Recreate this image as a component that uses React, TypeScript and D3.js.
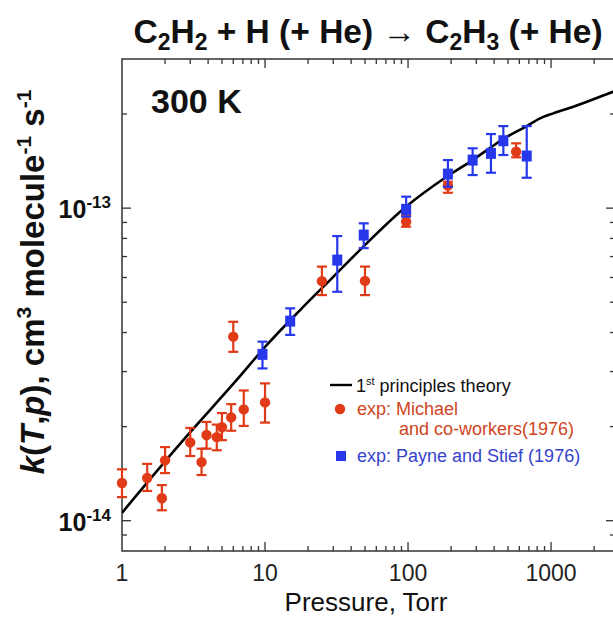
import { useEffect, useRef } from 'react';
import * as d3 from 'd3';

const W = 613;
const H = 618;
const FONT = '"Liberation Sans", Arial, Helvetica, sans-serif';
const RED = '#e03a16';
const BLUE = '#2637ec';

// 1st principles theory (pressure in Torr, k in cm3 molecule-1 s-1)
const theoryP = [1, 2.68, 6.34, 10.3, 17.6, 30, 46, 96.7, 186, 283, 380, 464, 676, 838, 1038, 1432, 2714, 2800];
const theoryK = [0.106, 0.181, 0.282, 0.365, 0.472, 0.603, 0.734, 1.01, 1.26, 1.425, 1.565, 1.665, 1.83, 1.938, 2.01, 2.11, 2.357, 2.37].map(v => v * 1e-13);

// exp: Michael and co-workers (1976)
const michaelP = [1, 1.5, 1.9, 2, 3, 3.6, 3.9, 4.6, 5, 5.8, 7.1, 10, 6, 25, 50, 97, 190, 570];
const michaelK = [0.132, 0.137, 0.118, 0.156, 0.178, 0.154, 0.188, 0.185, 0.199, 0.214, 0.227, 0.239, 0.388, 0.584, 0.585, 0.905, 1.18, 1.515].map(v => v * 1e-13);
const michaelLo = [0.119, 0.1245, 0.108, 0.142, 0.161, 0.140, 0.170, 0.168, 0.181, 0.194, 0.201, 0.206, 0.347, 0.527, 0.527, 0.872, 1.12, 1.454].map(v => v * 1e-13);
const michaelHi = [0.146, 0.152, 0.130, 0.172, 0.198, 0.170, 0.207, 0.203, 0.221, 0.236, 0.261, 0.275, 0.433, 0.650, 0.650, 0.95, 1.215, 1.612].map(v => v * 1e-13);

// exp: Payne and Stief (1976)
const payneP = [9.6, 15, 32, 49, 97, 190, 283, 380, 464, 676];
const payneK = [0.3405, 0.435, 0.682, 0.82, 0.991, 1.285, 1.425, 1.497, 1.643, 1.468].map(v => v * 1e-13);
const payneLo = [0.307, 0.393, 0.54, 0.745, 0.939, 1.171, 1.276, 1.298, 1.479, 1.251].map(v => v * 1e-13);
const payneHi = [0.374, 0.478, 0.814, 0.894, 1.088, 1.425, 1.554, 1.726, 1.83, 1.83].map(v => v * 1e-13);

const xTickVals = [1, 10, 100, 1000];
const xTickLabels = ['1', '10', '100', '1000'];
const yTickVals = [1e-14, 1e-13];
const yTickExps = ['-14', '-13'];

export default function App() {
  const svgRef = useRef<SVGSVGElement>(null);

  useEffect(() => {
    const svg = d3.select(svgRef.current);
    svg.selectAll('*').remove();

    const L = 122, R = 615, T = 59, B = 551;
    const x = d3.scaleLog().domain([1, 2800]).range([L, R]);
    const y = d3.scaleLog().domain([8e-15, 3e-13]).range([B, T]);
    const isMajor = (v: number) => Math.abs(Math.log10(v) - Math.round(Math.log10(v))) < 1e-6;

    svg.append('defs').append('clipPath').attr('id', 'plot-clip')
      .append('rect').attr('x', L).attr('y', T).attr('width', R - L).attr('height', B - T);

    // Title
    const title = svg.append('text')
      .attr('x', 368).attr('y', 43)
      .attr('text-anchor', 'middle')
      .attr('font-family', FONT).attr('font-weight', 700).attr('font-size', 33.5)
      .attr('fill', '#111');
    const parts: [string, boolean][] = [
      ['C', false], ['2', true], ['H', false], ['2', true], [' + H (+ He) \u2192 C', false],
      ['2', true], ['H', false], ['3', true], [' (+ He)', false],
    ];
    parts.forEach(([s, sub], i) => {
      const prevSub = i > 0 && parts[i - 1][1];
      title.append('tspan')
        .attr('dy', sub ? 7 : prevSub ? -7 : 0)
        .attr('font-size', sub ? 23 : 33.5)
        .text(s);
    });

    // Frame
    svg.append('rect')
      .attr('x', L).attr('y', T).attr('width', R - L).attr('height', B - T)
      .attr('fill', 'none').attr('stroke', '#333').attr('stroke-width', 1.5);

    // X ticks (bottom + top, inward)
    const xt = x.ticks().filter(v => v > 1 && v < 2800);
    svg.append('g').selectAll('line').data(xt).join('line')
      .attr('x1', d => x(d)).attr('x2', d => x(d))
      .attr('y1', B).attr('y2', d => B - (isMajor(d) ? 9 : 5))
      .attr('stroke', '#333').attr('stroke-width', 1.3);
    svg.append('g').selectAll('line').data(xt).join('line')
      .attr('x1', d => x(d)).attr('x2', d => x(d))
      .attr('y1', T).attr('y2', d => T + (isMajor(d) ? 9 : 5))
      .attr('stroke', '#333').attr('stroke-width', 1.3);

    // Y ticks (left + right, inward)
    const yt = y.ticks().filter(v => v > 8.01e-15 && v < 2.99e-13);
    svg.append('g').selectAll('line').data(yt).join('line')
      .attr('y1', d => y(d)).attr('y2', d => y(d))
      .attr('x1', L).attr('x2', d => L + (isMajor(d) ? 9 : 5))
      .attr('stroke', '#333').attr('stroke-width', 1.3);
    svg.append('g').selectAll('line').data(yt).join('line')
      .attr('y1', d => y(d)).attr('y2', d => y(d))
      .attr('x1', R).attr('x2', d => R - (isMajor(d) ? 9 : 5))
      .attr('stroke', '#333').attr('stroke-width', 1.3);

    // X tick labels
    svg.append('g').selectAll('text').data(xTickVals).join('text')
      .attr('x', d => x(d)).attr('y', 581)
      .attr('text-anchor', 'middle')
      .attr('font-family', FONT).attr('font-size', 23).attr('fill', '#222')
      .text((_, i) => xTickLabels[i]);

    // Y tick labels (10^n)
    yTickVals.forEach((v, i) => {
      const t = svg.append('text')
        .attr('x', 111).attr('y', y(v) + 10)
        .attr('text-anchor', 'end')
        .attr('font-family', FONT).attr('font-weight', 700).attr('fill', '#111');
      t.append('tspan').attr('font-size', 25).text('10');
      t.append('tspan').attr('font-size', 17).attr('dy', -10).text(yTickExps[i]);
    });

    // Axis titles
    svg.append('text')
      .attr('x', 366).attr('y', 611)
      .attr('text-anchor', 'middle')
      .attr('font-family', FONT).attr('font-size', 26).attr('fill', '#111')
      .text('Pressure, Torr');

    const yl = svg.append('text')
      .attr('transform', 'translate(44,282) rotate(-90)')
      .attr('text-anchor', 'middle')
      .attr('font-family', FONT).attr('font-weight', 700).attr('font-size', 33)
      .attr('fill', '#111');
    const ylParts: [string, 'n' | 'i' | 's'][] = [
      ['k', 'i'], ['(', 'n'], ['T', 'i'], [',', 'n'], ['p', 'i'], ['), cm', 'n'], ['3', 's'],
      [' molecule', 'n'], ['-1', 's'], [' s', 'n'], ['-1', 's'],
    ];
    ylParts.forEach(([s, kind], i) => {
      const prevSup = i > 0 && ylParts[i - 1][1] === 's';
      yl.append('tspan')
        .attr('font-style', kind === 'i' ? 'italic' : 'normal')
        .attr('font-size', kind === 's' ? 21 : 33)
        .attr('dy', kind === 's' ? -13 : prevSup ? 13 : 0)
        .text(s);
    });

    // 300 K
    svg.append('text')
      .attr('x', 151).attr('y', 113)
      .attr('font-family', FONT).attr('font-weight', 700).attr('font-size', 34)
      .attr('fill', '#111')
      .text('300 K');

    // Theory line
    const line = d3.line<number>()
      .x((_, i) => x(theoryP[i]))
      .y(d => y(d))
      .curve(d3.curveMonotoneX);
    svg.append('path')
      .attr('clip-path', 'url(#plot-clip)')
      .attr('d', line(theoryK))
      .attr('fill', 'none').attr('stroke', '#000').attr('stroke-width', 2.6);

    // Error bars + markers
    const drawErr = (P: number[], K: number[], lo: number[], hi: number[], color: string) => {
      const g = svg.append('g').attr('stroke', color).attr('stroke-width', 2.2);
      K.forEach((_, i) => {
        const cx = x(P[i]);
        g.append('line').attr('x1', cx).attr('x2', cx).attr('y1', y(lo[i])).attr('y2', y(hi[i]));
        g.append('line').attr('x1', cx - 5).attr('x2', cx + 5).attr('y1', y(lo[i])).attr('y2', y(lo[i]));
        g.append('line').attr('x1', cx - 5).attr('x2', cx + 5).attr('y1', y(hi[i])).attr('y2', y(hi[i]));
      });
    };

    drawErr(michaelP, michaelK, michaelLo, michaelHi, RED);
    svg.append('g').selectAll('circle').data(michaelK).join('circle')
      .attr('cx', (_, i) => x(michaelP[i])).attr('cy', d => y(d))
      .attr('r', 5.2).attr('fill', RED);

    drawErr(payneP, payneK, payneLo, payneHi, BLUE);
    svg.append('g').selectAll('rect').data(payneK).join('rect')
      .attr('x', (_, i) => x(payneP[i]) - 5).attr('y', d => y(d) - 5.5)
      .attr('width', 10).attr('height', 11)
      .attr('fill', BLUE);

    // Legend
    svg.append('line')
      .attr('x1', 330).attr('x2', 352).attr('y1', 385).attr('y2', 385)
      .attr('stroke', '#000').attr('stroke-width', 2.4);
    const lt = svg.append('text')
      .attr('x', 356).attr('y', 392)
      .attr('font-family', FONT).attr('font-size', 18).attr('fill', '#111');
    lt.append('tspan').text('1');
    lt.append('tspan').attr('font-size', 11).attr('dy', -7).text('st');
    lt.append('tspan').attr('dy', 7).text(' principles theory');

    svg.append('circle').attr('cx', 340).attr('cy', 409).attr('r', 5.2).attr('fill', RED);
    svg.append('text')
      .attr('x', 357).attr('y', 415)
      .attr('font-family', FONT).attr('font-size', 18).attr('fill', '#cf4422')
      .text('exp: Michael');
    svg.append('text')
      .attr('x', 399).attr('y', 435)
      .attr('font-family', FONT).attr('font-size', 18).attr('fill', '#cf4422')
      .text('and co-workers(1976)');

    svg.append('rect').attr('x', 336).attr('y', 451).attr('width', 10).attr('height', 10).attr('fill', BLUE);
    svg.append('text')
      .attr('x', 357).attr('y', 462)
      .attr('font-family', FONT).attr('font-size', 18).attr('fill', '#3543cc')
      .text('exp: Payne and Stief (1976)');
  }, []);

  return (
    <svg
      ref={svgRef}
      width={W}
      height={H}
      style={{ position: 'absolute', left: 0, top: 0, background: '#fff' }}
    />
  );
}
